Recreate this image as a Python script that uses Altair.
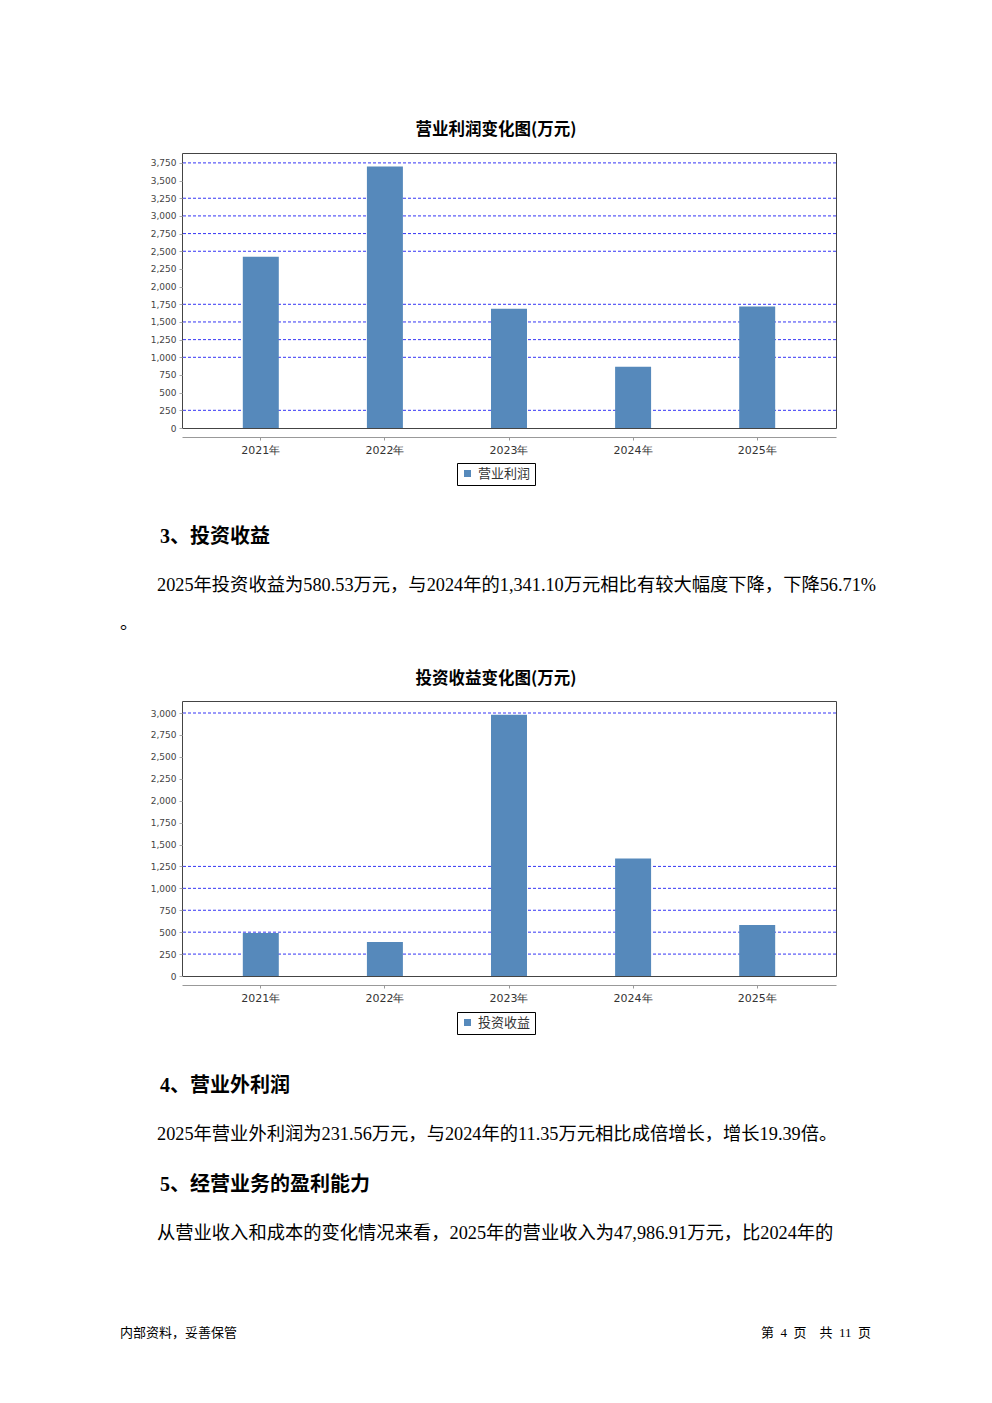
import altair as alt
import pandas as pd

# ---------------- data ----------------
years = ["2021年", "2022年", "2023年", "2024年", "2025年"]
op_profit = [2424, 3698, 1688, 867, 1717]          # 营业利润 (万元)
inv_income = [490, 388, 2981, 1341.10, 580.53]     # 投资收益 (万元)

ticks_1 = [0, 250, 500, 750, 1000, 1250, 1500, 1750, 2000, 2250, 2500, 2750, 3000, 3250, 3500, 3750]
ticks_2 = [0, 250, 500, 750, 1000, 1250, 1500, 1750, 2000, 2250, 2500, 2750, 3000]
grid_1 = [250, 1000, 1250, 1500, 1750, 2500, 2750, 3000, 3250, 3750]
grid_2 = [250, 500, 750, 1000, 1250, 3000]
ymax_1 = 3890
ymax_2 = 3137

title_1 = "营业利润变化图(万元)"
title_2 = "投资收益变化图(万元)"
series_1 = "营业利润"
series_2 = "投资收益"

heading_3 = "3、投资收益"
para_3 = "2025年投资收益为580.53万元，与2024年的1,341.10万元相比有较大幅度下降，下降56.71%"
para_3b = "。"
heading_4 = "4、营业外利润"
para_4 = "2025年营业外利润为231.56万元，与2024年的11.35万元相比成倍增长，增长19.39倍。"
heading_5 = "5、经营业务的盈利能力"
para_5 = "从营业收入和成本的变化情况来看，2025年的营业收入为47,986.91万元，比2024年的"
footer_l = "内部资料，妥善保管"
NB = "\u00a0"
footer_r = "第" + NB * 2 + "4" + NB * 2 + "页" + NB * 4 + "共" + NB * 2 + "11" + NB * 2 + "页"

BAR = "#5689bb"
GRID = "#3535f5"
FRAME = "#444444"
W = 654
H = 275
BODY_FONT = "Liberation Serif, Noto Sans CJK SC"
CJK = "Noto Sans CJK SC"

one = alt.Data(values=[{}])


def txt(s, x, y, size, bold=False, align="left", font=BODY_FONT, baseline="middle"):
    return alt.Chart(one).mark_text(
        text=s, align=align, baseline=baseline, fontSize=size,
        fontWeight="bold" if bold else "normal", font=font, color="#000000"
    ).encode(x=alt.value(x), y=alt.value(y))


def text_block(items, height):
    return alt.layer(*items).properties(
        width=W, height=height, view=alt.ViewBackground(strokeWidth=0, stroke="transparent")
    )


def bar_chart(values, series, ticks, grid, ymax, legend_y):
    df = pd.DataFrame({"year": years, "value": values, "series": [series] * len(years)})
    gdf = pd.DataFrame({"g": grid})
    yscale = alt.Scale(domain=[0, ymax], nice=False, zero=True)
    yaxis = alt.Axis(
        values=ticks, format=",d", title=None, domain=False, grid=False,
        tickColor="#aaaaaa", tickSize=3, labelFontSize=9, labelColor="#444444",
        labelFont="DejaVu Sans", labelPadding=3,
    )
    rules = alt.Chart(gdf).mark_rule(color=GRID, strokeWidth=1, strokeDash=[3, 2]).encode(
        y=alt.Y("g:Q", scale=yscale, axis=yaxis)
    )
    bars = alt.Chart(df).mark_bar().encode(
        x=alt.X(
            "year:N", sort=None, title=None,
            scale=alt.Scale(paddingInner=0.71, paddingOuter=0.49),
            axis=alt.Axis(
                offset=9, domainColor="#999999", tickColor="#999999", tickSize=3,
                labelAngle=0, labelFontSize=11, labelColor="#333333",
                labelFont="DejaVu Sans", labelPadding=4, grid=False,
            ),
        ),
        y=alt.Y("value:Q", scale=yscale, axis=yaxis),
        color=alt.Color(
            "series:N", scale=alt.Scale(range=[BAR]),
            legend=alt.Legend(
                orient="none", legendX=275, legendY=legend_y, title=None,
                strokeColor="#000000", padding=4, symbolType="square", symbolSize=49,
                symbolStrokeWidth=0, labelFontSize=13, labelFont=CJK,
                labelColor="#333333", labelOffset=4, fillColor="#ffffff",
            ),
        ),
    )
    return alt.layer(rules, bars).properties(
        width=W, height=H, view=alt.ViewBackground(stroke=FRAME, strokeWidth=1)
    )


chart1 = bar_chart(op_profit, series_1, ticks_1, grid_1, ymax_1, 310)
chart2 = bar_chart(inv_income, series_2, ticks_2, grid_2, ymax_2, 311)

block_a = text_block([txt(title_1, 314, 17, 16.5, bold=True, align="center", font=CJK)], 40)

block_b = text_block([
    txt(heading_3, -22, 109, 20, bold=True),
    txt(para_3, -25, 158, 18.3),
    txt(para_3b, -62, 201, 18, baseline="alphabetic"),
    txt(title_2, 314, 251, 16.5, bold=True, align="center", font=CJK),
], 273)

block_c = text_block([
    txt(heading_4, -22, 110, 20, bold=True),
    txt(para_4, -25, 159, 18.3),
    txt(heading_5, -22, 209, 20, bold=True),
    txt(para_5, -25, 258, 18.3),
    txt(footer_l, -62, 357, 13),
    txt(footer_r, 689, 357, 13, align="right"),
], 384)

chart = alt.vconcat(
    block_a, chart1, block_b, chart2, block_c, spacing=0, bounds="flush"
).resolve_scale(
    x="independent", y="independent", color="independent"
).resolve_legend(
    color="independent"
).properties(
    padding={"left": 112, "top": 105, "right": 5, "bottom": 5}
).configure_view(strokeWidth=0)

chart.save("out.html", embed_options={"renderer": "svg", "actions": False})
